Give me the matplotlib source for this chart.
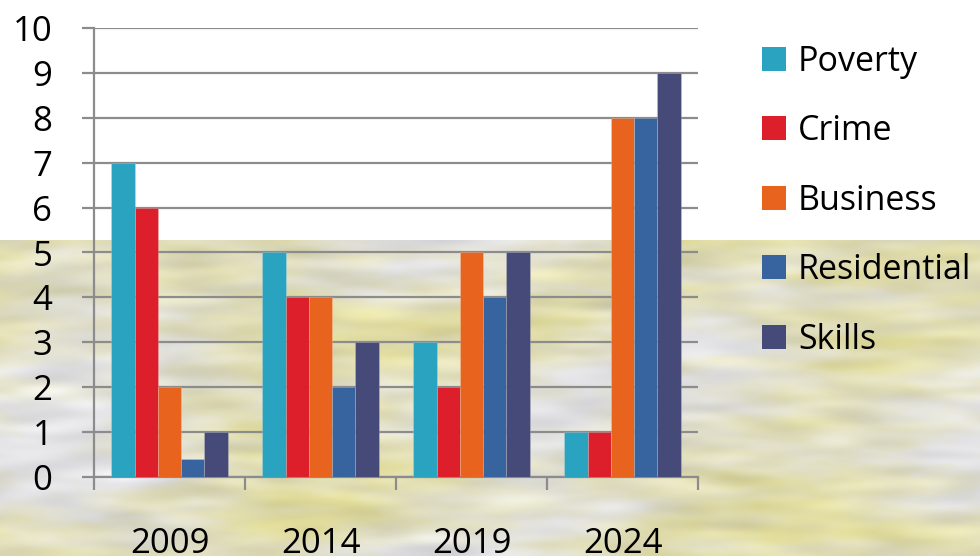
import numpy as np
import matplotlib
matplotlib.use("Agg")
import matplotlib.pyplot as plt
from matplotlib.lines import Line2D

plt.rcParams['font.family'] = ['Open Sans', 'DejaVu Sans']

# ---- data ----
years = ['2009', '2014', '2019', '2024']
series_names = ['Poverty', 'Crime', 'Business', 'Residential', 'Skills']
poverty = [7, 5, 3, 1]
crime = [6, 4, 2, 1]
business = [2, 4, 5, 8]
residential = [0.4, 2, 4, 8]
skills = [1, 3, 5, 9]
y_ticks = list(range(0, 11))

series_values = [poverty, crime, business, residential, skills]
colors = ['#2aa3c0', '#dc1f2a', '#e8641e', '#37649e', '#464a78']

W_PX, H_PX, DPI = 980, 556, 100
fig = plt.figure(figsize=(W_PX / DPI, H_PX / DPI), dpi=DPI)
fig.patch.set_facecolor('white')

# ---- streaky marbled backdrop in the lower part of the page ----
tex_h = 316
rng = np.random.default_rng(11)


def smooth_field(sx, sy):
    noise = rng.standard_normal((tex_h, W_PX))
    ky = np.fft.fftfreq(tex_h)[:, None]
    kx = np.fft.fftfreq(W_PX)[None, :]
    filt = np.exp(-2 * np.pi ** 2 * ((sx * kx) ** 2 + (sy * ky) ** 2))
    f = np.real(np.fft.ifft2(np.fft.fft2(noise) * filt))
    return (f - f.mean()) / f.std()


field = 0.55 * smooth_field(90, 35) + 0.35 * smooth_field(28, 5) + 0.10 * smooth_field(6, 2)
shade = smooth_field(20, 4)
t = np.clip(0.45 + 0.35 * field, 0, 1)
grey = np.array([0.89, 0.89, 0.90])
yellow = np.array([0.87, 0.85, 0.60])
img = grey[None, None, :] * (1 - t[..., None]) + yellow[None, None, :] * t[..., None]
img = np.clip(img * (1 + 0.025 * shade[..., None]), 0, 1)
bg = fig.add_axes([0, 0, 1, tex_h / H_PX], zorder=-10)
bg.imshow(img, aspect='auto', interpolation='bilinear')
bg.set_axis_off()

# ---- main chart ----
ax = fig.add_axes([94 / W_PX, 1 - 477 / H_PX, (698 - 94) / W_PX, (477 - 28) / H_PX])
ax.patch.set_alpha(0)

x = np.arange(len(years))
bar_w = 0.1545
for i, (vals, c) in enumerate(zip(series_values, colors)):
    ax.bar(x + (i - 2) * bar_w, vals, width=bar_w, color=c, zorder=3,
           edgecolor=(1, 1, 1, 0.25), linewidth=0.5)

grid_c = '#8c8c8c'
ax.set_xlim(-0.5, len(years) - 0.5)
ax.set_ylim(0, 10)
ax.set_yticks(y_ticks)
ax.set_yticklabels([str(v) for v in y_ticks])
ax.yaxis.grid(True, color=grid_c, linewidth=1.6, zorder=0)
ax.set_axisbelow(True)

# category boundaries as major ticks, labels at category centres
ax.set_xticks(np.arange(len(years) + 1) - 0.5)
ax.set_xticklabels([])
ax.set_xticks(x, minor=True)
ax.set_xticklabels(years, minor=True)
ax.tick_params(axis='x', which='major', direction='out', length=9, width=1.6, color=grid_c)
ax.tick_params(axis='x', which='minor', length=0, pad=36, labelsize=25)
ax.tick_params(axis='y', direction='out', length=9, width=1.6, color=grid_c, pad=21, labelsize=25)

for side in ['top', 'right']:
    ax.spines[side].set_visible(False)
for side in ['left', 'bottom']:
    ax.spines[side].set_color(grid_c)
    ax.spines[side].set_linewidth(1.6)

# ---- legend ----
handles = [Line2D([], [], marker='s', linestyle='none', markersize=17.5,
                  markerfacecolor=c, markeredgewidth=0) for c in colors]
fig.legend(handles, series_names, loc='upper left',
           bbox_to_anchor=(757 / W_PX, 1 - 45 / H_PX), frameon=False,
           fontsize=24.5, handlelength=1.0, handletextpad=0.2,
           labelspacing=1.04, borderpad=0, borderaxespad=0)

fig.savefig('out.png', dpi=DPI)
